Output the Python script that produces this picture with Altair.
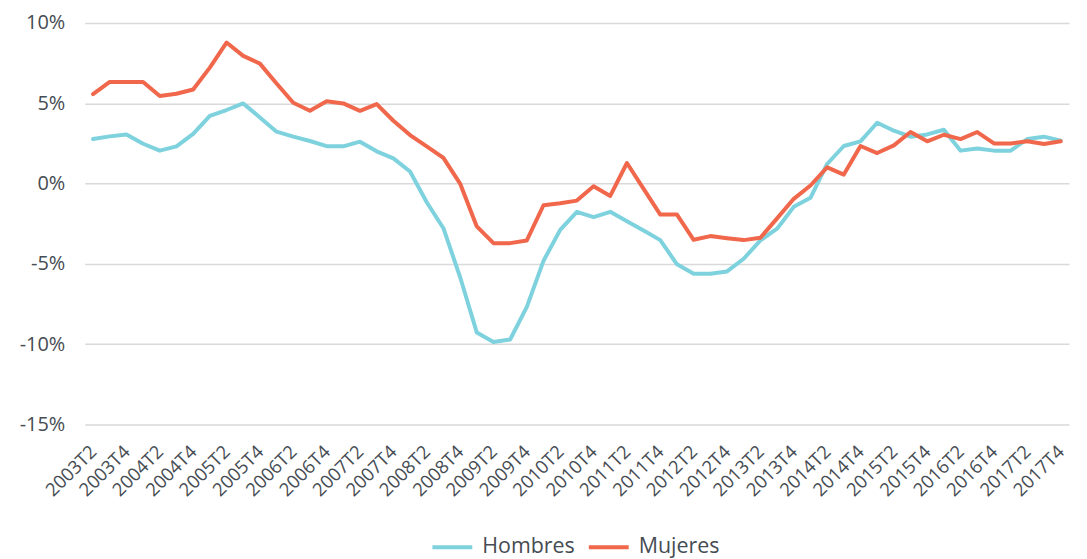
import altair as alt
import pandas as pd

quarters = [
    "2003T2", "2003T3", "2003T4", "2004T1", "2004T2", "2004T3", "2004T4", "2005T1",
    "2005T2", "2005T3", "2005T4", "2006T1", "2006T2", "2006T3", "2006T4", "2007T1",
    "2007T2", "2007T3", "2007T4", "2008T1", "2008T2", "2008T3", "2008T4", "2009T1",
    "2009T2", "2009T3", "2009T4", "2010T1", "2010T2", "2010T3", "2010T4", "2011T1",
    "2011T2", "2011T3", "2011T4", "2012T1", "2012T2", "2012T3", "2012T4", "2013T1",
    "2013T2", "2013T3", "2013T4", "2014T1", "2014T2", "2014T3", "2014T4", "2015T1",
    "2015T2", "2015T3", "2015T4", "2016T1", "2016T2", "2016T3", "2016T4", "2017T1",
    "2017T2", "2017T3", "2017T4",
]

hombres = [
    2.77, 2.94, 3.06, 2.48, 2.05, 2.32, 3.09, 4.22, 4.58, 4.99, 4.12, 3.23, 2.92, 2.65, 2.33,
    2.32, 2.61, 2.01, 1.57, 0.75, -1.16, -2.78, -5.82, -9.27, -9.86, -9.71, -7.68, -4.81, -2.88,
    -1.76, -2.09, -1.76, -2.34, -2.92, -3.52, -5.03, -5.61, -5.61, -5.47, -4.68, -3.54, -2.81, -1.45,
    -0.89, 1.22, 2.34, 2.63, 3.79, 3.29, 2.92, 3.06, 3.35, 2.05, 2.19, 2.05, 2.05, 2.77, 2.92, 2.67,
]

mujeres = [
    5.57, 6.33, 6.33, 6.33, 5.45, 5.59, 5.86, 7.22, 8.78, 7.95, 7.47, 6.23, 5.03, 4.53, 5.12,
    4.99, 4.53, 4.95, 3.91, 3.02, 2.32, 1.60, 0.0, -2.67, -3.71, -3.71, -3.54, -1.35, -1.23,
    -1.06, -0.17, -0.77, 1.28, -0.33, -1.93, -1.93, -3.50, -3.27, -3.40, -3.52, -3.37, -2.17, -0.95,
    -0.12, 1.01, 0.56, 2.34, 1.90, 2.38, 3.21, 2.63, 3.04, 2.77, 3.21, 2.50, 2.50, 2.63, 2.46, 2.63,
]

series_names = ["Hombres", "Mujeres"]
series_colors = ["#7ED2DE", "#F0674B"]
tick_labels = [q for q in quarters if q.endswith("T2") or q.endswith("T4")]
y_ticks = [-15, -10, -5, 0, 5, 10]

rows = []
for name, vals in zip(series_names, [hombres, mujeres]):
    for q, v in zip(quarters, vals):
        rows.append({"Trimestre": q, "Serie": name, "Valor": v})
df = pd.DataFrame(rows)

FONT = "Open Sans"
TXT = "#464C53"

chart = alt.Chart(df).mark_line(strokeWidth=4, strokeJoin="round", strokeCap="round").encode(
    x=alt.X(
        "Trimestre:O",
        sort=quarters,
        scale=alt.Scale(type="point", padding=0.5),
        axis=alt.Axis(
            title=None, values=tick_labels, labelAngle=-45, labelAlign="right",
            labelBaseline="middle", domain=False, ticks=False, grid=False,
            labelPadding=24, labelFontSize=18.5, labelColor=TXT, labelFont=FONT,
        ),
    ),
    y=alt.Y(
        "Valor:Q",
        scale=alt.Scale(domain=[-15, 10], nice=False),
        axis=alt.Axis(
            title=None, values=y_ticks, labelExpr="datum.value + '%'",
            domain=False, ticks=False, grid=True, gridColor="#D9D9D9", gridWidth=1.5,
            labelPadding=20, labelFontSize=20, labelColor=TXT, labelFont=FONT,
        ),
    ),
    color=alt.Color(
        "Serie:N",
        scale=alt.Scale(domain=series_names, range=series_colors),
        legend=alt.Legend(
            title=None, orient="none", direction="horizontal", legendX=347, legendY=504,
            symbolType="stroke", symbolSize=1600, symbolStrokeWidth=4,
            labelFontSize=21.5, labelColor=TXT, labelFont=FONT, labelOffset=8,
            columnPadding=6,
        ),
    ),
    order=alt.Order("Serie:N"),
).properties(
    width=988, height=403,
    autosize=alt.AutoSizeParams(type="none"),
    padding={"left": 77, "top": 14, "right": 10, "bottom": 134},
).configure_view(stroke=None)

chart.save("out.html", embed_options={"renderer": "svg", "actions": False})
